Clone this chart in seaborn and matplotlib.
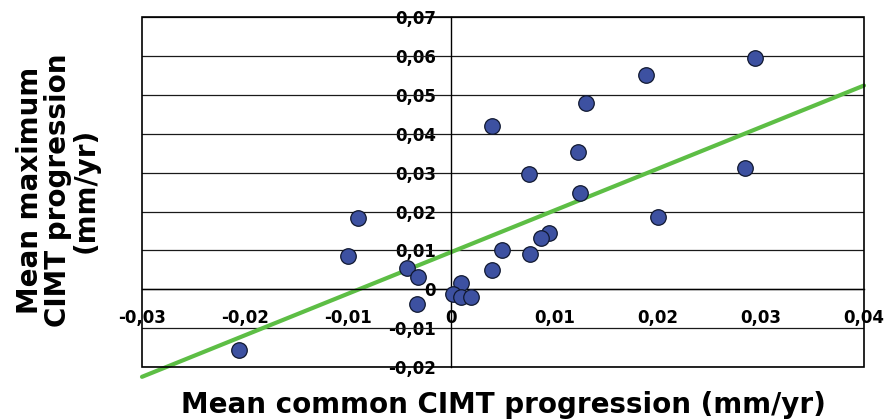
import matplotlib
matplotlib.use("Agg")
import matplotlib.pyplot as plt
import seaborn as sns
import numpy as np
import pandas as pd
from matplotlib.ticker import FuncFormatter
from matplotlib.patches import Rectangle

# Data
common_cimt = [0.0294, 0.0189, 0.0130, 0.0039, 0.0123, 0.0075, 0.0285, 0.0125,
               0.0200, -0.0091, 0.0095, 0.0087, 0.0049, 0.0076, -0.0100, -0.0043,
               -0.0032, 0.0039, 0.0009, 0.0002, 0.0009, 0.0019, -0.0033, -0.0206]
max_cimt = [0.0596, 0.0551, 0.0480, 0.0421, 0.0353, 0.0297, 0.0312, 0.0248,
            0.0186, 0.0184, 0.0144, 0.0133, 0.0101, 0.0092, 0.0085, 0.0054,
            0.0032, 0.0049, 0.0017, -0.0011, -0.0020, -0.0019, -0.0039, -0.0156]
trend_slope = 1.071
trend_intercept = 0.0096
x_ticks = [-0.03, -0.02, -0.01, 0.0, 0.01, 0.02, 0.03, 0.04]
y_ticks = [-0.02, -0.01, 0.0, 0.01, 0.02, 0.03, 0.04, 0.05, 0.06, 0.07]

sns.set_style("white")
plt.rcParams['font.family'] = ['DejaVu Sans']
plt.rcParams['text.color'] = 'black'

df = pd.DataFrame({"x": common_cimt, "y": max_cimt})
trend_x = np.array([x_ticks[0], x_ticks[-1]])
trend_df = pd.DataFrame({"x": trend_x, "y": trend_slope * trend_x + trend_intercept})

fig = plt.figure(figsize=(8.88, 4.19), dpi=100)
ax = fig.add_axes([142 / 888, 1 - 367 / 419, (864 - 142) / 888, (367 - 17.3) / 419])

for yv in y_ticks:
    ax.axhline(yv, color="#1a1a1a", lw=0.9, zorder=1)

sns.lineplot(data=trend_df, x="x", y="y", ax=ax, color="#5dbe45", lw=3.0,
             zorder=2, legend=False)
for l in ax.lines[-1:]:
    l.set_clip_on(False)

sns.scatterplot(data=df, x="x", y="y", ax=ax, s=125, color="#3d51a1",
                edgecolor="#101830", linewidth=0.9, zorder=3, legend=False)

ax.set_xlim(x_ticks[0], x_ticks[-1])
ax.set_ylim(y_ticks[0], y_ticks[-1])
ax.set_xticks(x_ticks)
ax.set_yticks(y_ticks)

fmt = FuncFormatter(lambda v, p: "0" if abs(v) < 1e-9 else f"{v:.2f}".replace(".", ","))
ax.xaxis.set_major_formatter(fmt)
ax.yaxis.set_major_formatter(fmt)

ax.spines['left'].set_position(('data', 0))
ax.spines['bottom'].set_position(('data', 0))
ax.spines['top'].set_visible(False)
ax.spines['right'].set_visible(False)
for s in ['left', 'bottom']:
    ax.spines[s].set_color('black')
    ax.spines[s].set_linewidth(1.0)
    ax.spines[s].set_zorder(2.5)

ax.add_patch(Rectangle((0, 0), 1, 1, transform=ax.transAxes, fill=False,
                       edgecolor='black', lw=1.2, clip_on=False, zorder=4))

ax.tick_params(axis='both', which='major', direction='out', length=5, width=1,
               color='black', labelsize=12, pad=6, labelcolor='black')
ax.tick_params(axis='x', pad=9)
for lab in ax.get_xticklabels() + ax.get_yticklabels():
    lab.set_fontweight('bold')

ax.set_xlabel("")
ax.set_ylabel("")
fig.text(503 / 888, 1 - 405 / 419, "Mean common CIMT progression (mm/yr)", ha='center',
         va='center', fontsize=20, fontweight='bold', color='black')
fig.text(58 / 888, 1 - 190 / 419, "Mean maximum\nCIMT progression\n(mm/yr)", ha='center',
         va='center', rotation=90, fontsize=20, fontweight='bold', linespacing=1.0,
         color='black')

fig.savefig("out.png", dpi=100)
